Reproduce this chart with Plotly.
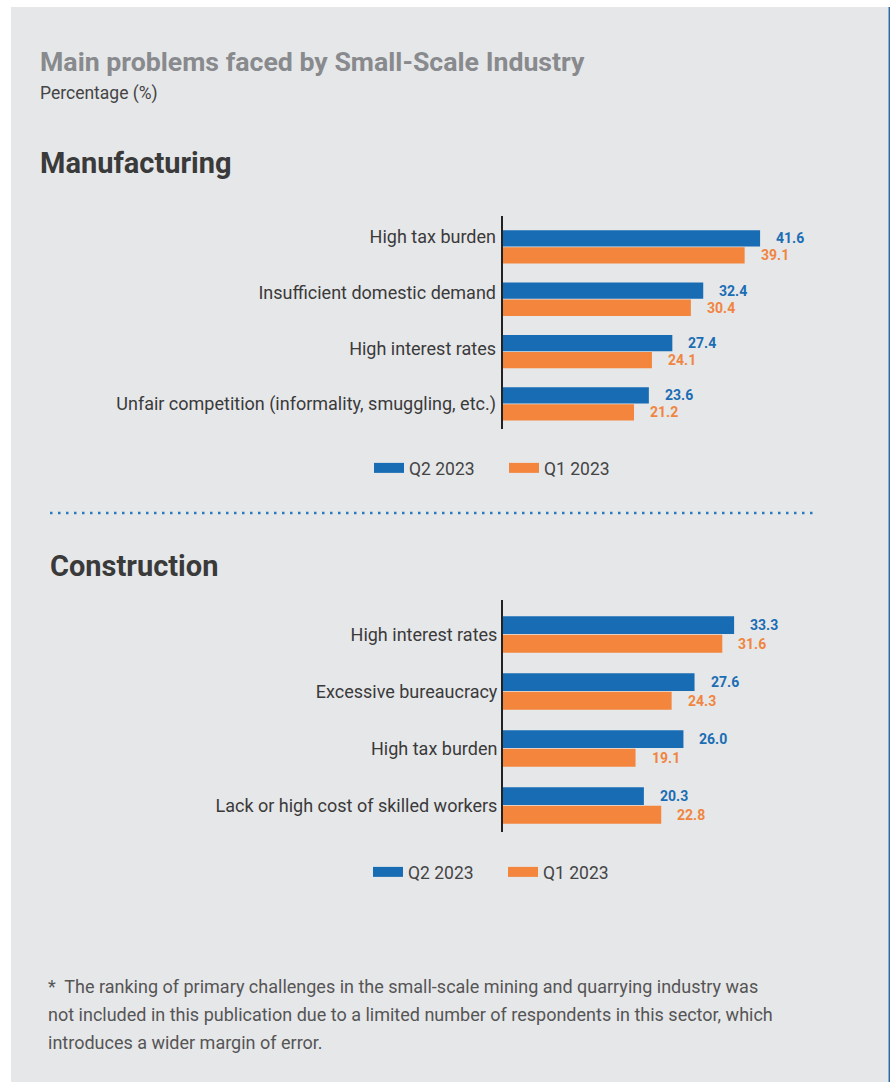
import plotly.graph_objects as go

# ---------------- data ----------------
man_categories = [
    "High tax burden",
    "Insufficient domestic demand",
    "High interest rates",
    "Unfair competition (informality, smuggling, etc.)",
]
man_q2 = [41.6, 32.4, 27.4, 23.6]
man_q1 = [39.1, 30.4, 24.1, 21.2]

con_categories = [
    "High interest rates",
    "Excessive bureaucracy",
    "High tax burden",
    "Lack or high cost of skilled workers",
]
con_q2 = [33.3, 27.6, 26.0, 20.3]
con_q1 = [31.6, 24.3, 19.1, 22.8]

series_names = ["Q2 2023", "Q1 2023"]

title_text = "Main problems faced by Small-Scale Industry"
subtitle_text = "Percentage (%)"
section_titles = ["Manufacturing", "Construction"]
footnote_lines = [
    "*  The ranking of primary challenges in the small-scale mining and quarrying industry was",
    "not included in this publication due to a limited number of respondents in this sector, which",
    "introduces a wider margin of error.",
]

# ---------------- style ----------------
W, H = 890, 1082
FONT = "Roboto, DejaVu Sans Condensed, sans-serif"
BLUE = "#176cb3"
ORANGE = "#f3853d"
BLUE_TXT = "#1b6db4"
ORANGE_TXT = "#f0853f"
PANEL = "#e6e7e9"
DARK = "#3a3a3a"
COLORS = [BLUE, ORANGE]


def px_x(p):
    return p / W


def px_y(p):
    return 1 - p / H


fig = go.Figure()

panels = [
    dict(cats=man_categories, q2=man_q2, q1=man_q1, xa="x", ya="y", legend="legend"),
    dict(cats=con_categories, q2=con_q2, q1=con_q1, xa="x2", ya="y2", legend="legend2"),
]

annotations = []
for p in panels:
    for name, vals, col in [(series_names[0], p["q2"], BLUE), (series_names[1], p["q1"], ORANGE)]:
        fig.add_trace(go.Bar(
            y=p["cats"], x=vals, name=name, orientation="h",
            marker=dict(color=col, line=dict(width=0)),
            xaxis=p["xa"], yaxis=p["ya"], showlegend=False,
            hoverinfo="skip",
        ))
    # legend entries (wide rectangular swatches)
    for name, col in zip(series_names, COLORS):
        fig.add_trace(go.Scatter(
            x=[None], y=[None], mode="lines", name=name,
            line=dict(color=col, width=13),
            xaxis=p["xa"], yaxis=p["ya"], legend=p["legend"], showlegend=True,
            hoverinfo="skip",
        ))

# label carrier for the manufacturing category axis (labels sit on their own spacing)
fig.add_trace(go.Scatter(
    x=[0] * len(man_categories), y=man_categories, mode="markers",
    marker=dict(opacity=0, size=1), xaxis="x", yaxis="y3",
    showlegend=False, hoverinfo="skip",
))

# data labels (value annotations next to each bar)
bar_offsets = {"y": 8.6, "y2": 9.4}
for p in panels:
    off = bar_offsets[p["ya"]]
    for vals, col, sh in [(p["q2"], BLUE_TXT, off), (p["q1"], ORANGE_TXT, -off)]:
        for c, v in zip(p["cats"], vals):
            annotations.append(dict(
                x=v, y=c, xref=p["xa"], yref=p["ya"], text=f"<b>{v:.1f}</b>",
                showarrow=False, xanchor="left", yanchor="middle",
                xshift=14, yshift=sh,
                font=dict(family=FONT, size=14, color=col),
            ))

# titles
annotations += [
    dict(x=px_x(38), y=px_y(62), xref="paper", yref="paper", text=f"<b>{title_text}</b>",
         showarrow=False, xanchor="left", yanchor="middle",
         font=dict(family=FONT, size=26.7, color="#888a8d")),
    dict(x=px_x(38), y=px_y(94), xref="paper", yref="paper", text=subtitle_text,
         showarrow=False, xanchor="left", yanchor="middle",
         font=dict(family=FONT, size=17.5, color="#444444")),
    dict(x=px_x(38), y=px_y(163), xref="paper", yref="paper", text=f"<b>{section_titles[0]}</b>",
         showarrow=False, xanchor="left", yanchor="middle",
         font=dict(family=FONT, size=29, color=DARK)),
    dict(x=px_x(48), y=px_y(566), xref="paper", yref="paper", text=f"<b>{section_titles[1]}</b>",
         showarrow=False, xanchor="left", yanchor="middle",
         font=dict(family=FONT, size=29, color=DARK)),
]
for i, line in enumerate(footnote_lines):
    annotations.append(dict(
        x=px_x(46), y=px_y(986 + 28 * i), xref="paper", yref="paper", text=line,
        showarrow=False, xanchor="left", yanchor="middle",
        font=dict(family=FONT, size=18, color="#555555"),
    ))

shapes = [
    # grey panel
    dict(type="rect", xref="paper", yref="paper", x0=px_x(11), x1=px_x(888.5), y0=0, y1=px_y(7),
         fillcolor=PANEL, line=dict(width=0), layer="below"),
    # thin blue edge at right
    dict(type="rect", xref="paper", yref="paper", x0=px_x(888.5), x1=1, y0=0, y1=px_y(7),
         fillcolor="#2a6aa8", line=dict(width=0), layer="below"),
    # dotted separator
    dict(type="line", xref="paper", yref="paper", x0=px_x(50), x1=px_x(815), y0=px_y(513), y1=px_y(513),
         line=dict(color="#2a78c0", width=2.5, dash="2.5px,5.5px")),
]

xdom = [px_x(503), px_x(860)]
axis_common_x = dict(domain=xdom, showgrid=False, zeroline=False, showticklabels=False,
                     showline=False, ticks="", fixedrange=True)
axis_common_y = dict(showgrid=False, zeroline=False, showline=True, linecolor="#222222", linewidth=2,
                     ticks="", ticklabelstandoff=0, type="category",
                     tickfont=dict(family=FONT, size=18, color=DARK), fixedrange=True)

legend_common = dict(orientation="h", xanchor="left", yanchor="middle", bgcolor="rgba(0,0,0,0)",
                     font=dict(family=FONT, size=17.5, color="#444444"), traceorder="normal",
                     entrywidth=90, entrywidthmode="pixels", itemclick=False, itemdoubleclick=False)

man_dom = [px_y(429), px_y(216)]

fig.update_layout(
    width=W, height=H,
    margin=dict(l=0, r=0, t=0, b=0),
    paper_bgcolor="white", plot_bgcolor="rgba(0,0,0,0)",
    barmode="group",
    bargap=0.35, bargroupgap=0.04,
    xaxis=dict(**axis_common_x, anchor="y", range=[0, 357 / 6.18]),
    yaxis=dict(**axis_common_y, anchor="x", domain=man_dom, showticklabels=False,
               categoryorder="array", categoryarray=man_categories, range=[3.48, -0.59]),
    yaxis3=dict(showgrid=False, zeroline=False, showline=False, ticks="", ticklabelstandoff=6,
                type="category", tickfont=dict(family=FONT, size=18, color=DARK), fixedrange=True,
                overlaying="y", anchor="x", side="left", domain=man_dom,
                categoryorder="array", categoryarray=man_categories, range=[3.449, -0.377]),
    xaxis2=dict(**axis_common_x, anchor="y2", range=[0, 357 / 6.94]),
    yaxis2=dict(**axis_common_y, anchor="x2", domain=[px_y(832), px_y(600)],
                categoryorder="array", categoryarray=con_categories, range=[3.465, -0.605]),
    legend=dict(**legend_common, x=px_x(369), y=px_y(468)),
    legend2=dict(**legend_common, x=px_x(368), y=px_y(872)),
    annotations=annotations,
    shapes=shapes,
    showlegend=True,
)

fig.write_html("out.html")
